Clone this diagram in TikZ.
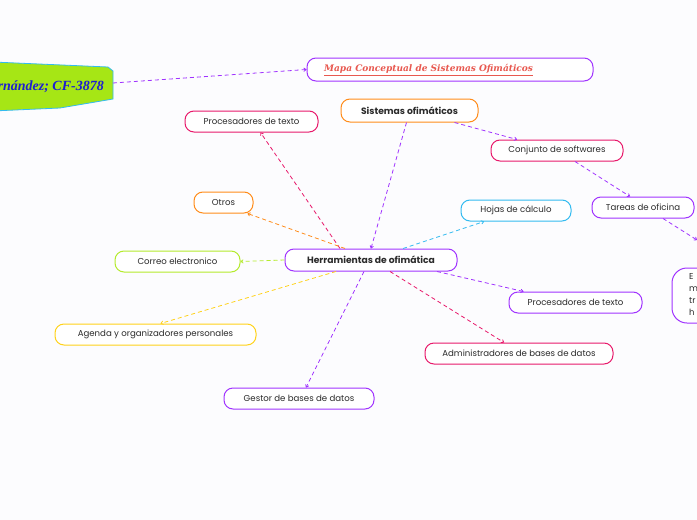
\documentclass[tikz,border=0pt]{standalone}
\usepackage{fontspec}
\setmainfont{Poppins}
\newfontfamily\titlefont{DejaVu Serif}
\newfontfamily\authorfont{Liberation Serif}
\usetikzlibrary{arrows.meta}
\definecolor{cpurple}{HTML}{A033FF}
\definecolor{cpink}{HTML}{E8196B}
\definecolor{corange}{HTML}{FF8C1A}
\definecolor{ccyan}{HTML}{33BBF0}
\definecolor{clime}{HTML}{B4EB2D}
\definecolor{cyellow}{HTML}{FFD21A}
\definecolor{ctext}{HTML}{2B2B2B}
\definecolor{cbg}{HTML}{FCFCFE}
\definecolor{cblue}{HTML}{1E1ED2}
\definecolor{climefill}{HTML}{A6E615}
\definecolor{cred}{HTML}{E8584F}
\tikzset{
  box/.style={draw, line width=1pt, rounded corners=9pt, fill=white, minimum height=21pt, inner sep=0pt, text=ctext, font=\fontsize{8.6}{10}\selectfont},
  bbox/.style={box, font=\fontsize{9.2}{10}\bfseries\selectfont},
  link/.style={dashed, dash pattern=on 4pt off 3pt, line width=0.8pt, -{To[length=3pt,width=4pt]}}
}
\begin{document}
\begin{tikzpicture}[x=1pt,y=-1pt]
\useasboundingbox (0,0) rectangle (697,520);
\fill[cbg] (0,0) rectangle (697,520);
% left title shape
\draw[ccyan, line width=0.8pt, fill=climefill] (-30,61) -- (108,67) -- (113,71) -- (113,99) -- (60,108) -- (-30,112) -- cycle;
\node[anchor=east, text=cblue, font=\authorfont\fontsize{14}{15}\bfseries\itshape\selectfont, inner sep=0pt] (author) at (104,87) {rnández; CF-3878};
\coordinate (authorE) at (113,83);
% nodes
\node[box, draw=cpurple, minimum width=286pt, minimum height=23pt] (mapa) at (450,69.5) {};
\node[anchor=west, text=cred, font=\titlefont\fontsize{9}{10}\bfseries\itshape\selectfont, inner sep=0pt] (mapat) at (324,70) {\underline{Mapa Conceptual de Sistemas Ofimáticos}};
\node[bbox, draw=corange, minimum width=137pt, minimum height=23pt] (sis) at (409.5,110.5) {Sistemas ofimáticos};
\node[box, draw=cpink, minimum width=133pt] (proc1) at (251.5,121.5) {Procesadores de texto};
\node[box, draw=cpink, minimum width=132pt] (conj) at (557,150.5) {Conjunto de softwares};
\node[box, draw=cpurple, minimum width=102pt] (tar) at (643,207.5) {Tareas de oficina};
\node[box, draw=cpurple, rounded corners=15pt, minimum width=60pt, minimum height=55pt] (big) at (702,295.5) {};
\node[anchor=north west, align=left, text=ctext, font=\fontsize{8.6}{12}\selectfont, inner sep=0pt] (bigt) at (689,273) {E\\m\\tr\\h};
\coordinate (bigN) at (697,240);
\node[box, draw=corange, minimum width=59pt] (otros) at (223.5,202.5) {Otros};
\node[box, draw=ccyan, minimum width=110pt] (hojas) at (516,210.5) {Hojas de cálculo};
\node[box, draw=clime, minimum width=125pt] (correo) at (177.5,261.5) {Correo electronico};
\node[bbox, draw=cpurple, minimum width=172pt, minimum height=22pt] (herr) at (371,260) {Herramientas de ofimática};
\node[box, draw=cpurple, minimum width=133pt] (proc2) at (575.5,302.5) {Procesadores de texto};
\node[box, draw=cyellow, minimum width=201pt] (agenda) at (155.5,334.5) {Agenda y organizadores personales};
\node[box, draw=cpink, minimum width=188pt] (admin) at (519,353.5) {Administradores de bases de datos};
\node[box, draw=cpurple, minimum width=150pt] (gestor) at (299,398.5) {Gestor de bases de datos};
% connectors
\draw[link, cpurple] (authorE) -- (mapa.west);
\draw[link, cpurple] ([xshift=-3pt]sis.south) -- (herr.north);
\draw[link, cpurple] ([xshift=45pt]sis.south) -- ([xshift=-40pt]conj.north);
\draw[link, cpurple] ([xshift=18pt]conj.south) -- ([xshift=-13pt]tar.north);
\draw[link, cpurple] ([xshift=20pt]tar.south) -- (bigN);
\draw[link, cpink] ([xshift=-31pt]herr.north) -- ([xshift=9pt]proc1.south);
\draw[link, corange] ([xshift=-26pt]herr.north) -- ([xshift=24pt]otros.south);
\draw[link, clime] (herr.west) -- (correo.east);
\draw[link, ccyan] ([xshift=32pt]herr.north) -- ([xshift=-32pt]hojas.south);
\draw[link, cpurple] ([xshift=66pt]herr.south) -- ([xshift=-52pt]proc2.north);
\draw[link, cyellow] ([xshift=-35pt]herr.south) -- ([xshift=5pt]agenda.north);
\draw[link, cpink] ([xshift=19pt]herr.south) -- ([xshift=-15pt]admin.north);
\draw[link, cpurple] ([xshift=-7pt]herr.south) -- ([xshift=7pt]gestor.north);
\end{tikzpicture}
\end{document}
